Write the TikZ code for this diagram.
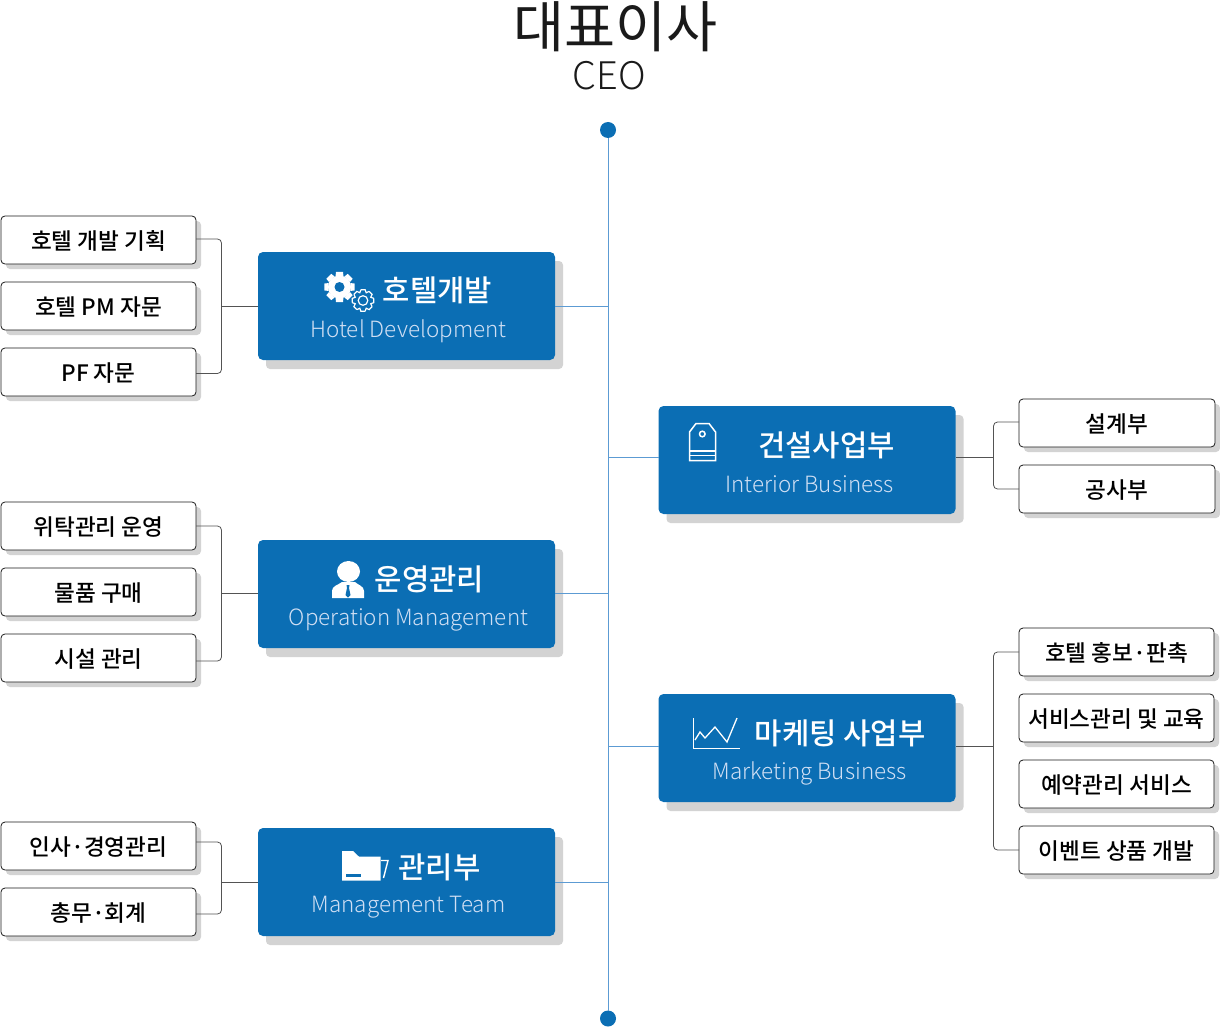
\documentclass[tikz,border=0pt]{standalone}
\usepackage{fontspec}
\setmainfont{Noto Sans CJK KR}
\newfontfamily\medf{Noto Sans CJK KR Medium}
\newfontfamily\lightf{Noto Sans CJK KR Light}
\definecolor{mainblue}{HTML}{0B6EB4}
\definecolor{linkblue}{HTML}{5C9BD3}
\definecolor{shade}{HTML}{D3D3D3}
\definecolor{engtext}{HTML}{D0DFF4}
\definecolor{ink}{HTML}{1A1A1A}
\tikzset{
  x=1pt,y=-1pt,
  subbox/.style={draw=ink,line width=0.8pt,fill=white,rounded corners=4pt,minimum height=48pt,inner sep=0pt,outer sep=0pt,anchor=north west,text=black,font=\medf\fontsize{22.6}{26}\selectfont,text depth=0.4pt},
  subshade/.style={fill=shade,rounded corners=4pt},
  mainbox/.style={fill=mainblue,rounded corners=5pt,minimum width=297pt,minimum height=108pt,inner sep=0pt,outer sep=0pt,anchor=north west},
  mainshade/.style={fill=shade,rounded corners=4pt},
  head/.style={text=white,font=\medf\fontsize{29.7}{32}\selectfont,inner sep=0pt},
  eng/.style={text=engtext,font=\lightf\fontsize{22.4}{26}\selectfont,inner sep=0pt},
  grayline/.style={draw=ink!75,line width=0.8pt,rounded corners=4pt},
  stemline/.style={draw=ink!75,line width=0.8pt},
  blueline/.style={draw=linkblue,line width=1pt},
  dotnode/.style={circle,fill=mainblue,minimum size=16pt,inner sep=0pt,outer sep=0pt},
  whiteicon/.style={draw=white,line width=1.5pt,line join=miter,fill=none},
}
\newcommand{\gearpath}[4]{% cx cy outer inner
  \foreach \a in {0,45,...,315}{%
    \fill[white] ({#1+#3*cos(\a-13)},{#2+#3*sin(\a-13)}) -- ({#1+#3*cos(\a+13)},{#2+#3*sin(\a+13)}) -- ({#1+#4*cos(\a+20)},{#2+#4*sin(\a+20)}) -- ({#1+#4*cos(\a-20)},{#2+#4*sin(\a-20)}) -- cycle;}%
}
\newcommand{\subb}[5]{% name x y width text
  \fill[subshade] (#2+5,#3+5) rectangle ++(#4,48);
  \node[subbox,minimum width=#4 pt] (#1) at (#2,#3) {#5};
}
\newcommand{\mainb}[3]{% name x y
  \fill[mainshade] (#2+8,#3+9) rectangle ++(297,108);
  \node[mainbox] (#1) at (#2,#3) {};
}
\begin{document}
\begin{tikzpicture}
\useasboundingbox (0,0) rectangle (1220,1027);
% title
\node[inner sep=0pt,font=\fontsize{55.5}{58}\selectfont,text=ink] (title) at (615.5,27) {대표이사};
\node[inner sep=0pt,font=\lightf\fontsize{38}{40}\selectfont,text=ink] (ceo) at (609,75.5) {CEO};
% spine
\node[dotnode] (top) at (608,130) {};
\node[dotnode] (bot) at (608,1018.5) {};
\draw[blueline] (top) -- (bot);
% main boxes
\mainb{m1}{258}{252}
\mainb{m2}{258}{540}
\mainb{m3}{258}{828}
\mainb{m4}{658.5}{406}
\mainb{m5}{658.5}{694}
% sub boxes left
\subb{a1}{1}{216}{195}{호텔 개발 기획}
\subb{a2}{1}{282}{195}{호텔 PM 자문}
\subb{a3}{1}{348}{195}{PF 자문}
\subb{b1}{1}{502}{195}{위탁관리 운영}
\subb{b2}{1}{568}{195}{물품 구매}
\subb{b3}{1}{634}{195}{시설 관리}
\subb{c1}{1}{822}{195}{인사·경영관리}
\subb{c2}{1}{888}{195}{총무·회계}
% sub boxes right
\subb{d1}{1019}{399}{196}{설계부}
\subb{d2}{1019}{465}{196}{공사부}
\subb{e1}{1019}{628}{195}{호텔 홍보·판촉}
\subb{e2}{1019}{694}{195}{서비스관리 및 교육}
\subb{e3}{1019}{760}{195}{예약관리 서비스}
\subb{e4}{1019}{826}{195}{이벤트 상품 개발}
% junctions
\coordinate (ja) at (221.5,306.5);
\coordinate (jb) at (221.5,593.5);
\coordinate (jc) at (221.5,882.5);
\coordinate (jd) at (993.5,457);
\coordinate (je) at (993.5,746);
% blue links
\draw[blueline] (ja -| m1.east) -- (ja -| top);
\draw[blueline] (jb -| m2.east) -- (jb -| top);
\draw[blueline] (jc -| m3.east) -- (jc -| top);
\draw[blueline] (jd -| m4.west) -- (jd -| top);
\draw[blueline] (je -| m5.west) -- (je -| top);
% gray connectors
\draw[grayline] ([yshift=1pt]a1.east) -| (ja) |- ([yshift=-1.5pt]a3.east);
\draw[stemline] (ja) -- (ja -| m1.west);
\draw[grayline] (b1.east) -| (jb) |- ([yshift=-3pt]b3.east);
\draw[stemline] (jb) -- (jb -| m2.west);
\draw[grayline] ([yshift=4pt]c1.east) -| (jc) |- ([yshift=-2pt]c2.east);
\draw[stemline] (jc) -- (jc -| m3.west);
\draw[grayline] ([yshift=1pt]d1.west) -| (jd) |- (d2.west);
\draw[stemline] (jd) -- (jd -| m4.east);
\draw[grayline] (e1.west) -| (je) |- (e4.west);
\draw[stemline] (je) -- (je -| m5.east);
% main labels
\node[head] (h1) at (437.5,290) {호텔개발};
\node[eng]  (g1) at (408.5,331) {Hotel Development};
\node[head] (h2) at (429.5,579) {운영관리};
\node[eng]  (g2) at (408.5,619.5) {Operation Management};
\node[head] (h3) at (439.5,867) {관리부};
\node[eng]  (g3) at (408.5,907) {Management Team};
\node[head] (h4) at (826.5,445) {건설사업부};
\node[eng]  (g4) at (809.5,484.5) {Interior Business};
\node[head] (h5) at (840,733.5) {마케팅 사업부};
\node[eng]  (g5) at (809.5,773) {Marketing Business};
% gear icons
\gearpath{339.5}{287}{15.5}{11.5}
\fill[white] (339.5,287) circle (11.5pt);
\fill[mainblue] (339.5,287) circle (5pt);
\foreach \a in {0,45,...,315}{%
  \draw[white,line width=1.2pt] ({363+11*cos(\a-11)},{300.5+11*sin(\a-11)}) -- ({363+11*cos(\a+11)},{300.5+11*sin(\a+11)}) -- ({363+8.4*cos(\a+22.5)},{300.5+8.4*sin(\a+22.5)}) -- ({363+11*cos(\a+34)},{300.5+11*sin(\a+34)});}
\draw[white,line width=1.2pt] (363,300.5) circle (4.8pt);
% person icon
\fill[white] (348.5,571.5) ellipse (11.5pt and 10.5pt);
\fill[white] (332,598) -- (332,591) .. controls (332,586) and (338,585) .. (342,582) -- (355,582) .. controls (358,585) and (364,586) .. (364,591) -- (364,598) -- cycle;
\fill[mainblue] (346.5,585) -- (349.5,585) -- (349,588) -- (350.5,595) -- (348,597.5) -- (345.5,595) -- (347,588) -- cycle;
% tag icon
\draw[whiteicon] (689.5,460.5) -- (689.5,432) -- (696,423.5) -- (709,423.5) -- (715.5,432) -- (715.5,460.5) -- cycle;
\draw[whiteicon] (689.5,451) -- (715.5,451);
\draw[whiteicon] (689.5,455.5) -- (715.5,455.5);
\draw[whiteicon] (702.3,434) circle (2.8pt);
% chart icon
\draw[white,line width=1.3pt] (693.5,718) -- (693.5,748.5) -- (740,748.5);
\draw[white,line width=1.3pt] (695,740) -- (700,732) -- (705,738) -- (715,727) -- (727,742) -- (737,718);
% folder icon
\fill[white] (342,851) -- (353,851) -- (359,856.7) -- (380.7,856.7) -- (380.7,880.5) -- (342,880.5) -- cycle;
\fill[mainblue] (346,874) rectangle (360.5,877);
\draw[white,line width=1.4pt] (381,860.5) -- (388,860.5) -- (383.5,878);
\end{tikzpicture}
\end{document}
